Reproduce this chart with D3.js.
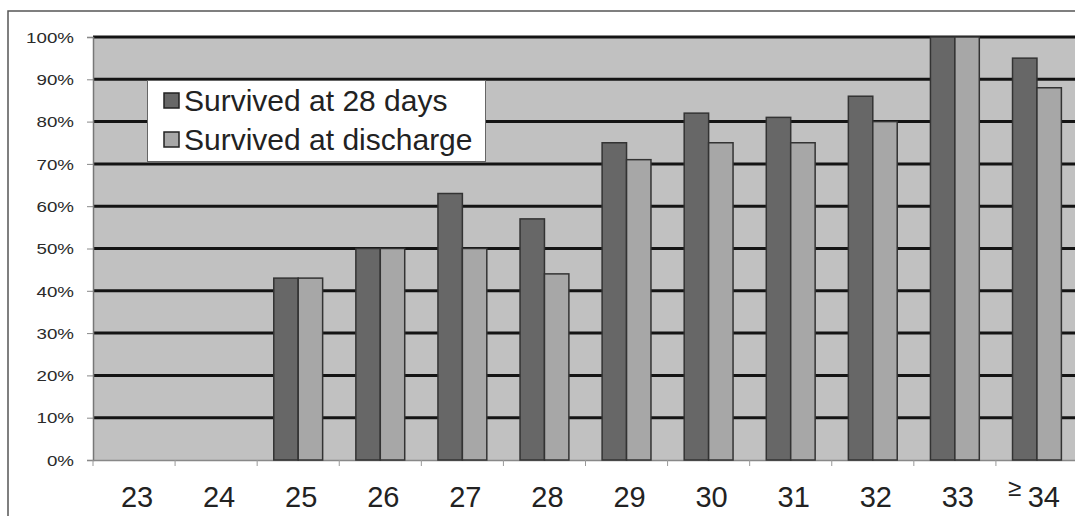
<!DOCTYPE html>
<html>
<head>
<meta charset="utf-8">
<script src="https://cdn.jsdelivr.net/npm/d3@7"></script>
<style>
  html, body { margin: 0; padding: 0; background: #fff; }
  svg { display: block; font-family: "Liberation Sans", Arial, sans-serif; }
</style>
</head>
<body>
<svg id="chart" width="1075" height="516"></svg>
<script>
// Gestational age (weeks) and survival rates (%)
const categories = ["23", "24", "25", "26", "27", "28", "29", "30", "31", "32", "33", "34"];
const seriesNames = ["Survived at 28 days", "Survived at discharge"];
const survived28 = [null, null, 43, 50, 63, 57, 75, 82, 81, 86, 100, 95];
const survivedDischarge = [null, null, 43, 50, 50, 44, 71, 75, 75, 80, 100, 88];
const yTicks = [0, 10, 20, 30, 40, 50, 60, 70, 80, 90, 100];

const colors = ["#676767", "#a7a7a7"];

const svg = d3.select("#chart");
const plotLeft = 93, plotRight = 1078, plotTop = 37, plotBottom = 460;

const x0 = d3.scaleBand().domain(categories).range([plotLeft, plotRight]).padding(0);
const x1 = d3.scaleBand().domain(seriesNames).range([0, x0.bandwidth()])
  .paddingInner(0).paddingOuter(0.68);
const y = d3.scaleLinear().domain([0, 100]).range([plotBottom, plotTop]);

// outer frame
svg.append("path")
  .attr("d", "M8,516 V11 H1075")
  .attr("fill", "none").attr("stroke", "#555").attr("stroke-width", 1.5);

// plot background
svg.append("rect")
  .attr("x", plotLeft).attr("y", plotTop)
  .attr("width", plotRight - plotLeft).attr("height", plotBottom - plotTop)
  .attr("fill", "#c1c1c1");

// horizontal gridlines
svg.append("g").selectAll("line")
  .data(yTicks.filter(d => d > 0))
  .join("line")
  .attr("x1", plotLeft).attr("x2", plotRight)
  .attr("y1", d => y(d)).attr("y2", d => y(d))
  .attr("stroke", "#141414").attr("stroke-width", 3);

// y axis
const yAxis = svg.append("g")
  .attr("transform", `translate(${plotLeft},0)`)
  .call(d3.axisLeft(y).tickValues(yTicks).tickSize(6).tickFormat(d => d + "%"));
yAxis.select(".domain").attr("stroke", "#777").attr("stroke-width", 1.5);
yAxis.selectAll(".tick line").attr("stroke", "#888");
yAxis.selectAll(".tick text").remove();
yAxis.selectAll(".tick").append("text")
  .attr("transform", "translate(-19,0) scale(1.25,1)")
  .attr("text-anchor", "end")
  .attr("dy", "0.35em")
  .attr("fill", "#2a2a2a")
  .attr("font-size", 15)
  .attr("font-family", "Liberation Sans, Arial, sans-serif")
  .text(d => d + "%");

// x axis
const xAxis = svg.append("g")
  .attr("transform", `translate(0,${plotBottom})`)
  .call(d3.axisBottom(x0).tickSize(0).tickFormat(""));
xAxis.select(".domain").attr("stroke", "#888").attr("stroke-width", 1.5);
// ticks between categories
svg.append("g").selectAll("line")
  .data(categories)
  .join("line")
  .attr("x1", d => x0(d)).attr("x2", d => x0(d))
  .attr("y1", plotBottom).attr("y2", plotBottom + 6)
  .attr("stroke", "#999").attr("stroke-width", 1);

// bars
const groups = svg.append("g").selectAll("g")
  .data(categories.map((c, i) => ({ c, vals: [survived28[i], survivedDischarge[i]] })))
  .join("g")
  .attr("transform", d => `translate(${x0(d.c)},0)`);

groups.selectAll("rect")
  .data(d => d.vals.map((v, j) => ({ v, name: seriesNames[j], j })).filter(e => e.v != null))
  .join("rect")
  .attr("x", e => x1(e.name))
  .attr("width", x1.bandwidth())
  .attr("y", e => y(e.v))
  .attr("height", e => plotBottom - y(e.v))
  .attr("fill", e => colors[e.j])
  .attr("stroke", "#333")
  .attr("stroke-width", 1.5);

// category labels
const labels = svg.append("g").selectAll("text")
  .data(categories)
  .join("text")
  .attr("x", d => x0(d) + x0.bandwidth() / 2 + 3)
  .attr("y", 507)
  .attr("text-anchor", "middle")
  .attr("font-size", 29)
  .attr("fill", "#222");
labels.filter((d, i) => i < categories.length - 1).text(d => d);
const last = labels.filter((d, i) => i === categories.length - 1)
  .attr("x", x0(categories[categories.length - 1]) + x0.bandwidth() / 2 - 3);
last.append("tspan").attr("font-size", 24).attr("dy", -11).text("\u2265 ");
last.append("tspan").attr("dy", 11).text(d => d);

// legend
const legend = svg.append("g");
legend.append("rect")
  .attr("x", 147.5).attr("y", 80.5).attr("width", 338).attr("height", 81)
  .attr("fill", "#fff").attr("stroke", "#666").attr("stroke-width", 1);
seriesNames.forEach((name, i) => {
  const yy = 111 + i * 39;
  legend.append("rect")
    .attr("x", 164).attr("y", yy - 18).attr("width", 15).attr("height", 15)
    .attr("fill", colors[i]).attr("stroke", "#222").attr("stroke-width", 1.5);
  legend.append("text")
    .attr("x", 184).attr("y", yy)
    .attr("font-size", 30)
    .attr("fill", "#222")
    .text(name);
});
</script>
</body>
</html>
